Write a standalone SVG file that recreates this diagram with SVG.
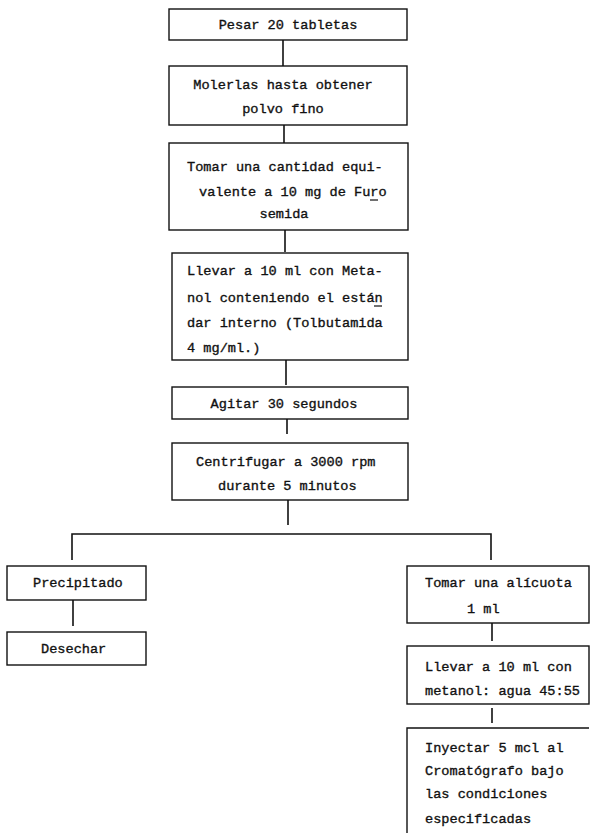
<svg xmlns="http://www.w3.org/2000/svg" width="590" height="833" viewBox="0 0 590 833">
<style>
.b{fill:none;stroke:#111;stroke-width:1.4}
.c{fill:none;stroke:#111;stroke-width:1.6}
.u{stroke:#111;stroke-width:1.2}
text{font-family:"Liberation Mono","DejaVu Sans Mono",monospace;font-size:13.6px;fill:#111;stroke:#111;stroke-width:0.35}
.m{text-anchor:middle}
</style>
<rect width="590" height="833" fill="#fff"/>
<g id="connectors">
<line class="c" x1="283" y1="40" x2="283" y2="66"/>
<line class="c" x1="284" y1="125" x2="284" y2="143"/>
<line class="c" x1="285" y1="230" x2="285" y2="252"/>
<line class="c" x1="286" y1="360" x2="286" y2="385"/>
<line class="c" x1="287" y1="419" x2="287" y2="434"/>
<line class="c" x1="288" y1="500" x2="288" y2="525"/>
<polyline class="c" points="72,560 72,534 491,534 491,560"/>
<line class="c" x1="73" y1="600" x2="73" y2="626"/>
<line class="c" x1="492" y1="623" x2="492" y2="641"/>
<line class="c" x1="492" y1="708" x2="492" y2="723"/>
</g>
<g id="n1"><rect class="b" x="169" y="9" width="238" height="31"/><text class="m" x="288" y="29">Pesar 20 tabletas</text></g>
<g id="n2"><rect class="b" x="169" y="66" width="238" height="59"/><text class="m" x="283" y="89">Molerlas hasta obtener</text><text class="m" x="283" y="113">polvo fino</text></g>
<g id="n3"><rect class="b" x="169" y="143" width="239" height="87"/><text x="187" y="171">Tomar una cantidad equi-</text><text x="199" y="196">valente a 10 mg de Furo</text><line class="u" x1="370" y1="200" x2="378" y2="200"/><text class="m" x="284" y="218">semida</text></g>
<g id="n4"><rect class="b" x="172" y="253" width="236" height="107"/><text x="187" y="275">Llevar a 10 ml con Meta-</text><text x="187" y="302">nol conteniendo el están</text><line class="u" x1="374" y1="306" x2="382" y2="306"/><text x="187" y="327">dar interno (Tolbutamida</text><text x="187" y="352">4 mg/ml.)</text></g>
<g id="n5"><rect class="b" x="172" y="387" width="236" height="32"/><text class="m" x="284" y="408">Agitar 30 segundos</text></g>
<g id="n6"><rect class="b" x="172" y="443" width="236" height="57"/><text x="196" y="466">Centrifugar a 3000 rpm</text><text x="218" y="490">durante 5 minutos</text></g>
<g id="n7"><rect class="b" x="7" y="566" width="139" height="34"/><text x="33" y="587">Precipitado</text></g>
<g id="n8"><rect class="b" x="7" y="632" width="139" height="33"/><text x="41" y="653">Desechar</text></g>
<g id="n9"><rect class="b" x="407" y="566" width="182" height="57"/><text x="425" y="587">Tomar una alícuota</text><text x="467" y="613">1 ml</text></g>
<g id="n10"><rect class="b" x="407" y="646" width="182" height="58"/><text x="425" y="671">Llevar a 10 ml con</text><text x="425" y="695">metanol: agua 45:55</text></g>
<g id="n11"><path class="b" d="M407,834 V728 H589"/><text x="425" y="752">Inyectar 5 mcl al</text><text x="425" y="775">Cromatógrafo bajo</text><text x="425" y="798">las condiciones</text><text x="425" y="823">especificadas</text></g>
</svg>
